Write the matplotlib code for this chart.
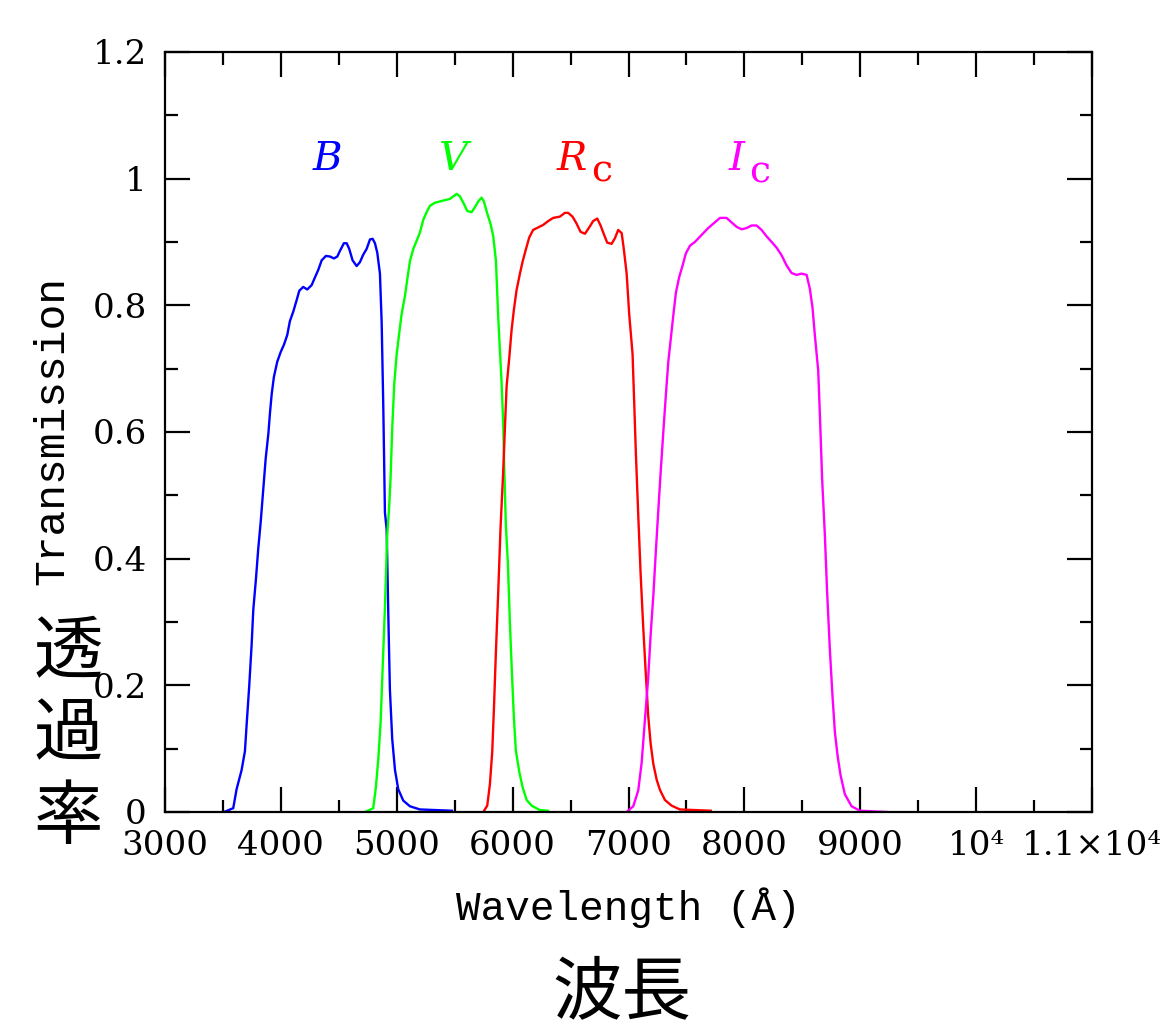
import matplotlib
matplotlib.use('Agg')
import matplotlib.pyplot as plt
import matplotlib.ticker as ticker

plt.rcParams['mathtext.fontset'] = 'dejavuserif'
plt.rcParams['axes.linewidth'] = 1.6

# Filter transmission curves (wavelength in Angstrom)
b_wave = [3509, 3589, 3618, 3661, 3690, 3705, 3727, 3748, 3762, 3785, 3805, 3826, 3848, 3869,
          3892, 3906, 3921, 3940, 3969, 3998, 4027, 4055, 4078, 4107, 4136, 4159, 4193, 4228,
          4266, 4294, 4323, 4352, 4389, 4424, 4458, 4487, 4510, 4544, 4568, 4590, 4619, 4654,
          4682, 4711, 4740, 4769, 4792, 4812, 4832, 4855, 4870, 4884, 4898, 4913, 4927, 4941,
          4961, 4985, 5013, 5056, 5114, 5200, 5476]
b_trans = [0.0, 0.006, 0.036, 0.066, 0.096, 0.139, 0.199, 0.265, 0.319, 0.368, 0.416, 0.458,
           0.509, 0.558, 0.597, 0.630, 0.660, 0.687, 0.711, 0.726, 0.738, 0.753, 0.775, 0.790,
           0.808, 0.823, 0.829, 0.825, 0.832, 0.844, 0.856, 0.871, 0.878, 0.877, 0.874, 0.877,
           0.886, 0.898, 0.898, 0.889, 0.871, 0.862, 0.868, 0.880, 0.889, 0.904, 0.905, 0.898,
           0.883, 0.850, 0.772, 0.639, 0.473, 0.446, 0.313, 0.193, 0.115, 0.066, 0.036, 0.018,
           0.009, 0.004, 0.002]

v_wave = [4726, 4797, 4820, 4841, 4861, 4878, 4898, 4918, 4935, 4947, 4961, 4979, 4999, 5022,
          5042, 5071, 5091, 5114, 5143, 5172, 5200, 5229, 5258, 5286, 5330, 5373, 5416, 5459,
          5488, 5517, 5545, 5580, 5608, 5646, 5675, 5703, 5732, 5752, 5781, 5810, 5833, 5856,
          5876, 5905, 5919, 5928, 5942, 5959, 5977, 5994, 6011, 6028, 6057, 6086, 6121, 6164,
          6235, 6305]
v_trans = [0.0, 0.006, 0.039, 0.084, 0.142, 0.226, 0.322, 0.438, 0.483, 0.528, 0.606, 0.677,
           0.722, 0.757, 0.786, 0.815, 0.841, 0.870, 0.889, 0.902, 0.915, 0.935, 0.947, 0.957,
           0.962, 0.964, 0.966, 0.968, 0.972, 0.976, 0.972, 0.960, 0.949, 0.947, 0.955, 0.964,
           0.970, 0.964, 0.945, 0.928, 0.909, 0.870, 0.780, 0.677, 0.612, 0.541, 0.451, 0.393,
           0.296, 0.219, 0.148, 0.097, 0.064, 0.039, 0.019, 0.010, 0.003, 0.002]

r_wave = [5747, 5781, 5804, 5824, 5839, 5856, 5876, 5896, 5919, 5934, 5948, 5971, 5991, 6011,
          6034, 6063, 6086, 6114, 6143, 6177, 6221, 6264, 6307, 6350, 6408, 6451, 6479, 6517,
          6552, 6586, 6624, 6661, 6695, 6730, 6759, 6788, 6816, 6854, 6883, 6911, 6941, 6960,
          6984, 7006, 7035, 7049, 7064, 7084, 7105, 7127, 7148, 7170, 7191, 7214, 7243, 7271,
          7314, 7372, 7443, 7710]
r_trans = [0.0, 0.010, 0.044, 0.095, 0.165, 0.254, 0.349, 0.450, 0.539, 0.609, 0.672, 0.717,
           0.761, 0.793, 0.824, 0.850, 0.869, 0.888, 0.907, 0.919, 0.923, 0.927, 0.933, 0.938,
           0.940, 0.946, 0.946, 0.940, 0.929, 0.916, 0.913, 0.923, 0.933, 0.937, 0.926, 0.912,
           0.899, 0.897, 0.906, 0.919, 0.914, 0.888, 0.850, 0.786, 0.723, 0.647, 0.564, 0.469,
           0.374, 0.292, 0.222, 0.152, 0.108, 0.076, 0.051, 0.035, 0.019, 0.010, 0.004, 0.002]

i_wave = [6983, 7041, 7084, 7113, 7141, 7170, 7191, 7214, 7237, 7257, 7278, 7300, 7323, 7343,
          7364, 7386, 7409, 7438, 7467, 7495, 7530, 7573, 7630, 7688, 7745, 7789, 7846, 7889,
          7932, 7976, 8019, 8062, 8105, 8148, 8191, 8235, 8278, 8321, 8364, 8407, 8450, 8493,
          8537, 8565, 8588, 8608, 8637, 8651, 8671, 8694, 8714, 8738, 8761, 8781, 8804, 8830,
          8867, 8925, 8997, 9227]
i_trans = [0.0, 0.009, 0.034, 0.077, 0.144, 0.212, 0.280, 0.341, 0.415, 0.476, 0.538, 0.599,
           0.660, 0.710, 0.746, 0.783, 0.820, 0.845, 0.863, 0.882, 0.894, 0.900, 0.911, 0.922,
           0.931, 0.938, 0.938, 0.931, 0.924, 0.920, 0.922, 0.926, 0.926, 0.919, 0.909, 0.900,
           0.891, 0.879, 0.863, 0.851, 0.848, 0.850, 0.848, 0.826, 0.796, 0.753, 0.697, 0.630,
           0.525, 0.439, 0.347, 0.255, 0.181, 0.126, 0.089, 0.058, 0.028, 0.009, 0.002, 0.0]

x_ticks = [3000, 4000, 5000, 6000, 7000, 8000, 9000, 10000, 11000]
x_labels = ['3000', '4000', '5000', '6000', '7000', '8000', '9000', '10⁴', '1.1×10⁴']
y_ticks = [0, 0.2, 0.4, 0.6, 0.8, 1.0, 1.2]
y_labels = ['0', '0.2', '0.4', '0.6', '0.8', '1', '1.2']

fig = plt.figure(figsize=(11.61, 10.29), dpi=100)
ax = fig.add_axes([0.1421, 0.2109, 0.7985, 0.7386])

ax.plot(b_wave, b_trans, color='#0000ff', lw=1.7)
ax.plot(v_wave, v_trans, color='#00ff00', lw=1.7)
ax.plot(r_wave, r_trans, color='#ff0000', lw=1.7)
ax.plot(i_wave, i_trans, color='#ff00ff', lw=1.7)

ax.set_xlim(3000, 11000)
ax.set_ylim(0, 1.2)
ax.set_xticks(x_ticks)
ax.set_xticklabels(x_labels)
ax.set_yticks(y_ticks)
ax.set_yticklabels(y_labels)
ax.xaxis.set_minor_locator(ticker.MultipleLocator(500))
ax.yaxis.set_minor_locator(ticker.MultipleLocator(0.1))
ax.tick_params(which='both', direction='in', top=True, right=True, width=1.6, color='black')
ax.tick_params(which='major', length=18, pad=13)
ax.tick_params(which='minor', length=9)
for lab in ax.get_xticklabels() + ax.get_yticklabels():
    lab.set_family('DejaVu Serif')
    lab.set_fontsize(24.5)

# filter names (R and I carry an upright, nearly full-size "c" below the baseline)
ax.text(4398, 1.014, r'$B$', color='#0000ff', fontsize=29, ha='center', va='baseline')
ax.text(5502, 1.014, r'$V$', color='#00ff00', fontsize=29, ha='center', va='baseline')
ax.text(6374, 1.014, r'$R$', color='#ff0000', fontsize=29, ha='left', va='baseline')
ax.text(6680, 0.996, 'c', color='#ff0000', fontsize=27, ha='left', va='baseline',
        family='DejaVu Serif')
ax.text(7858, 1.014, r'$I$', color='#ff00ff', fontsize=29, ha='left', va='baseline')
ax.text(8045, 0.994, 'c', color='#ff00ff', fontsize=27, ha='left', va='baseline',
        family='DejaVu Serif')

# axis titles
fig.text(0.0448, 0.582, 'Transmission', rotation=90, ha='center', va='center',
         family='Liberation Mono', fontsize=31)
fig.text(0.541, 0.1176, 'Wavelength (Å)', ha='center', va='center',
         family='Liberation Mono', fontsize=29.5)
fig.text(0.0586, 0.285, '透\n過\n率', ha='center', va='center', linespacing=1.2,
         family=['Noto Sans CJK JP', 'DejaVu Sans'], fontsize=50)
fig.text(0.536, 0.035, '波長', ha='center', va='center',
         family=['Noto Sans CJK JP', 'DejaVu Sans'], fontsize=50)

fig.savefig('out.png', dpi=100)
